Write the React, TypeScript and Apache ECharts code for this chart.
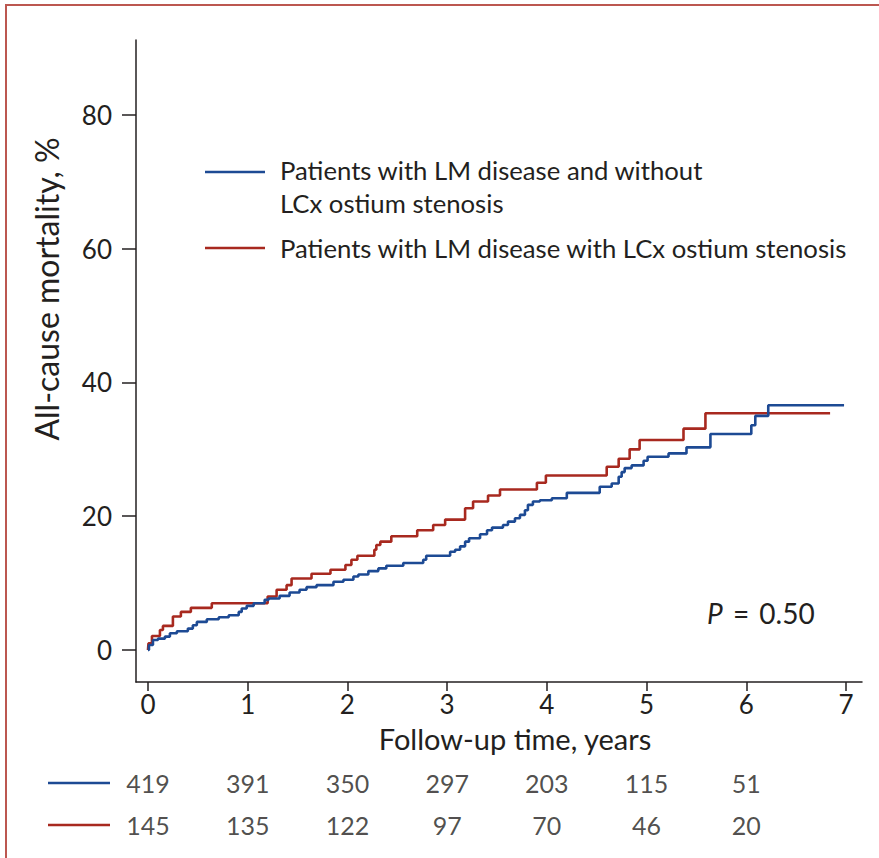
import React, { useEffect, useRef } from "react";
import * as echarts from "echarts";

const seriesNames = [
  "Patients with LM disease and without\nLCx ostium stenosis",
  "Patients with LM disease with LCx ostium stenosis",
];
const colors = ["#1d4a94", "#a8291f"];
const yearTicks = [0, 1, 2, 3, 4, 5, 6, 7];
const mortalityTicks = [0, 20, 40, 60, 80];

const blueTime = [0, 0.01, 0.05, 0.1, 0.17, 0.22, 0.29, 0.4, 0.45, 0.49, 0.59, 0.71, 0.81, 0.91, 0.94, 0.99, 1.06, 1.17, 1.21, 1.32, 1.42, 1.52, 1.59, 1.69, 1.86, 1.96, 2.06, 2.11, 2.21, 2.31, 2.39, 2.56, 2.76, 2.79, 3.03, 3.08, 3.13, 3.18, 3.22, 3.33, 3.4, 3.45, 3.56, 3.61, 3.68, 3.73, 3.78, 3.81, 3.86, 3.93, 4.05, 4.2, 4.53, 4.65, 4.72, 4.75, 4.78, 4.85, 4.97, 5.01, 5.22, 5.4, 5.64, 6.05, 6.09, 6.22, 6.98];
const blueMort = [0, 0.75, 1.5, 1.7, 2.0, 2.5, 2.8, 3.2, 3.7, 4.2, 4.6, 4.9, 5.2, 5.7, 6.2, 6.6, 7.0, 7.5, 7.7, 8.1, 8.6, 9.0, 9.4, 9.7, 10.2, 10.5, 11.0, 11.3, 11.8, 12.2, 12.6, 13.0, 13.5, 14.1, 14.7, 15.0, 15.5, 16.2, 16.7, 17.3, 17.9, 18.3, 18.7, 19.2, 19.7, 20.2, 20.9, 21.7, 22.2, 22.4, 22.7, 23.5, 24.4, 24.9, 25.9, 26.6, 27.2, 27.6, 28.3, 28.9, 29.4, 30.3, 32.3, 33.6, 35.0, 36.6, 36.6];

const redTime = [0, 0.005, 0.04, 0.12, 0.15, 0.25, 0.33, 0.43, 0.64, 1.2, 1.29, 1.39, 1.44, 1.64, 1.83, 1.98, 2.04, 2.1, 2.27, 2.29, 2.33, 2.44, 2.7, 2.86, 2.98, 3.18, 3.26, 3.41, 3.53, 3.9, 3.99, 4.6, 4.72, 4.83, 4.93, 5.37, 5.59, 6.84];
const redMort = [0, 1.0, 2.1, 3.0, 3.6, 5.0, 5.7, 6.3, 7.0, 8.0, 9.0, 9.7, 10.7, 11.4, 12.0, 12.7, 13.5, 14.1, 15.0, 15.7, 16.2, 17.0, 17.9, 18.7, 19.5, 21.2, 22.2, 23.1, 24.0, 25.0, 26.1, 27.4, 28.6, 30.0, 31.4, 33.1, 35.4, 35.4];

const atRiskYears = [0, 1, 2, 3, 4, 5, 6];
const atRiskBlue = [419, 391, 350, 297, 203, 115, 51];
const atRiskRed = [145, 135, 122, 97, 70, 46, 20];
const riskRows = ["blue", "red"];
const pValueText = "0.50";
const xTitle = "Follow-up time, years";
const yTitle = "All-cause mortality, %";

const FONT = "Lato, 'Open Sans', sans-serif";
const INK = "#231f20";

export default function App() {
  const ref = useRef<HTMLDivElement>(null);
  useEffect(() => {
    if (!ref.current) return;
    const chart = echarts.init(ref.current, undefined, { renderer: "svg" });
    const axisLine = { show: true, onZero: false, lineStyle: { color: INK, width: 1.5 } };
    const riskSets = [atRiskBlue, atRiskRed];
    chart.setOption({
      animation: false,
      backgroundColor: "#ffffff",
      grid: [
        { left: 136, right: 17, top: 40, bottom: 176 },
        { left: 136, right: 17, top: 762, height: 84 },
      ],
      xAxis: [
        {
          type: "value",
          gridIndex: 0,
          min: -0.12,
          max: 7.16,
          axisLine,
          axisTick: { show: true, customValues: yearTicks, length: 9, lineStyle: { color: INK, width: 1.5 } },
          axisLabel: { customValues: yearTicks, fontSize: 26, color: INK, fontFamily: FONT, margin: 9 },
          splitLine: { show: false },
        },
        { type: "value", gridIndex: 1, min: -0.12, max: 7.16, show: false },
      ],
      yAxis: [
        {
          type: "value",
          gridIndex: 0,
          min: -4.785,
          max: 91.21,
          axisLine,
          axisTick: { show: true, customValues: mortalityTicks, length: 14, lineStyle: { color: INK, width: 1.5 } },
          axisLabel: { customValues: mortalityTicks, fontSize: 26, color: INK, fontFamily: FONT, margin: 24 },
          splitLine: { show: false },
        },
        { type: "category", gridIndex: 1, data: riskRows, inverse: true, show: false },
      ],
      series: [
        {
          type: "line",
          name: seriesNames[0],
          step: "end",
          showSymbol: false,
          data: blueTime.map((t, i) => [t, blueMort[i]]),
          lineStyle: { color: colors[0], width: 2.6 },
          itemStyle: { color: colors[0] },
          z: 3,
        },
        {
          type: "line",
          name: seriesNames[1],
          step: "end",
          showSymbol: false,
          data: redTime.map((t, i) => [t, redMort[i]]),
          lineStyle: { color: colors[1], width: 2.6 },
          itemStyle: { color: colors[1] },
          z: 2,
        },
        ...riskSets.map((set, r) => ({
          type: "scatter",
          xAxisIndex: 1,
          yAxisIndex: 1,
          symbolSize: 1,
          itemStyle: { color: "rgba(0,0,0,0)" },
          data: atRiskYears.map((t, i) => [t, riskRows[r], set[i]]),
          label: {
            show: true,
            position: "inside",
            formatter: (p: any) => String(p.value[2]),
            fontSize: 25,
            color: INK,
            fontFamily: FONT,
          },
        })),
      ],
      graphic: [
        {
          type: "rect",
          shape: { x: 6, y: 5, width: 1000, height: 1000 },
          style: { fill: "none", stroke: "#bc5750", lineWidth: 2 },
          silent: true,
        },
        {
          type: "text",
          x: 46,
          y: 289,
          rotation: Math.PI / 2,
          style: { text: yTitle, fontSize: 32, fill: INK, fontFamily: FONT, align: "center", verticalAlign: "middle" },
        },
        {
          type: "text",
          x: 515,
          y: 738,
          style: { text: xTitle, fontSize: 29, fill: INK, fontFamily: FONT, align: "center", verticalAlign: "middle" },
        },
        { type: "line", shape: { x1: 205, y1: 172, x2: 265, y2: 172 }, style: { stroke: colors[0], lineWidth: 2.6 } },
        { type: "line", shape: { x1: 205, y1: 248, x2: 265, y2: 248 }, style: { stroke: colors[1], lineWidth: 2.6 } },
        {
          type: "text",
          x: 280,
          y: 153,
          style: { text: seriesNames[0], fontSize: 25.7, lineHeight: 33, fill: INK, fontFamily: FONT, align: "left", verticalAlign: "top" },
        },
        {
          type: "text",
          x: 280,
          y: 248,
          style: { text: seriesNames[1], fontSize: 25.7, fill: INK, fontFamily: FONT, align: "left", verticalAlign: "middle" },
        },
        { type: "line", shape: { x1: 48, y1: 783, x2: 110, y2: 783 }, style: { stroke: colors[0], lineWidth: 2.6 } },
        { type: "line", shape: { x1: 48, y1: 825, x2: 110, y2: 825 }, style: { stroke: colors[1], lineWidth: 2.6 } },
        {
          type: "text",
          x: 707,
          y: 613,
          style: {
            text: "{i|P} {e|=} " + pValueText,
            fontSize: 28,
            fill: INK,
            fontFamily: FONT,
            align: "left",
            verticalAlign: "middle",
            rich: {
              i: { fontStyle: "italic", fontSize: 28, fill: INK, fontFamily: FONT, padding: [0, 3, 0, 0] },
              e: { fontSize: 28, fill: INK, fontFamily: FONT, padding: [0, 3, 0, 0] },
            },
          },
        },
      ],
    });
    return () => chart.dispose();
  }, []);
  return <div ref={ref} style={{ position: "absolute", left: 0, top: 0, width: 879, height: 858 }} />;
}
